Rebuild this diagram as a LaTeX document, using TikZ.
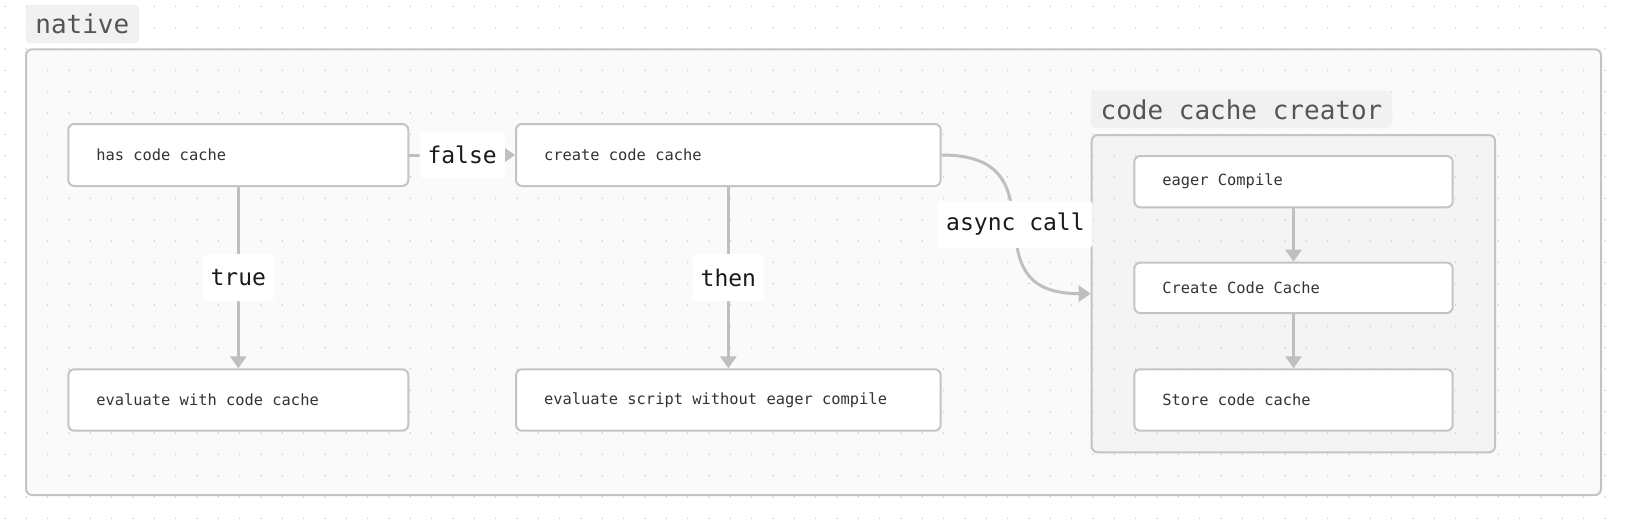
\documentclass[tikz,border=0pt]{standalone}
\usepackage{fontspec}
\setmonofont{DejaVu Sans Mono}
\usetikzlibrary{arrows.meta}
\definecolor{bordc}{HTML}{C4C4C4}
\definecolor{linec}{HTML}{BFBFBF}
\definecolor{outerfill}{HTML}{FAFAFA}
\definecolor{innerfill}{HTML}{F4F4F4}
\definecolor{titlebg}{HTML}{F1F1F1}
\definecolor{titletext}{HTML}{555555}
\definecolor{nodetext}{HTML}{333333}
\definecolor{labeltext}{HTML}{1A1A1A}
\definecolor{dotc}{HTML}{D2D2D2}
\tikzset{
  stepbox/.style={draw=bordc, line width=2pt, fill=white, rounded corners=6pt,
    inner xsep=0pt, inner ysep=0pt, align=left, text=nodetext,
    font=\ttfamily\fontsize{15.4}{18}\selectfont},
  groupbox/.style={draw=bordc, line width=2pt, rounded corners=6pt, inner sep=0pt},
  titlebox/.style={fill=titlebg, rounded corners=4pt, inner sep=0pt, text=titletext,
    font=\ttfamily\fontsize{26}{30}\selectfont},
  elabel/.style={fill=white, rounded corners=4pt, inner xsep=8pt, inner ysep=0pt,
    minimum height=47pt, text=labeltext, font=\ttfamily\fontsize{23}{27}\selectfont},
  conn/.style={draw=linec, line width=3pt, -{Triangle[length=12pt,width=16pt]}}
}
\newcommand{\boxtext}[2]{\parbox{#1pt}{\hspace*{28pt}#2}}
\begin{document}
\begin{tikzpicture}[x=1pt,y=-1pt]
\useasboundingbox (0,0) rectangle (1626,528);
\fill[white] (0,0) rectangle (1626,528);
% group fills
\fill[outerfill, rounded corners=6pt] (26,49.3) rectangle (1601,495);
\fill[innerfill, rounded corners=6pt] (1091.7,135) rectangle (1495,452.3);
% dot grid
\foreach \i in {0,...,75}{
  \foreach \j in {0,...,24}{
    \fill[dotc] ({5+21.333*\i},{6.3+21.333*\j}) circle (0.95);
  }
}
% group borders
\node[groupbox, minimum width=1575pt, minimum height=445.7pt] (native) at (813.5,272.15) {};
\node[groupbox, minimum width=403.3pt, minimum height=317.3pt] (ccc) at (1293.35,293.65) {};
% titles
\node[titlebox, minimum width=113.3pt, minimum height=38pt] (nativetitle) at (82.35,24) {native};
\node[titlebox, minimum width=301pt, minimum height=37.3pt] (ccctitle) at (1241.5,109.35) {code cache creator};
% step nodes
\node[stepbox, minimum width=340pt, minimum height=62pt] (has) at (238.3,155) {\boxtext{340}{has code cache}};
\node[stepbox, minimum width=340pt, minimum height=61.4pt] (evalwith) at (238.3,400) {\boxtext{340}{evaluate with code cache}};
\node[stepbox, minimum width=424.7pt, minimum height=62pt] (create) at (728.35,155) {\boxtext{424.7}{create code cache}};
\node[stepbox, minimum width=424.7pt, minimum height=61.4pt] (evalwithout) at (728.35,400) {\boxtext{424.7}{evaluate script without eager compile}};
\node[stepbox, minimum width=318.4pt, minimum height=51.3pt] (eager) at (1293.5,181.65) {\boxtext{318.4}{eager Compile}};
\node[stepbox, minimum width=318.4pt, minimum height=50.3pt] (createcc) at (1293.5,287.85) {\boxtext{318.4}{Create Code Cache}};
\node[stepbox, minimum width=318.4pt, minimum height=61.4pt] (store) at (1293.5,400) {\boxtext{318.4}{Store code cache}};
% connectors
\draw[conn] (has.east) -- node[elabel, midway] {false} (create.west);
\draw[conn] (has.south) -- node[elabel, midway] {true} (evalwith.north);
\draw[conn] (create.south) -- node[elabel, midway] {then} (evalwithout.north);
\draw[conn] (create.east) .. controls +(127,0) and +(-129,0) .. node[elabel, pos=0.5] {async call} (ccc.west);
\draw[conn] (eager.south) -- (createcc.north);
\draw[conn] (createcc.south) -- (store.north);
\end{tikzpicture}
\end{document}
